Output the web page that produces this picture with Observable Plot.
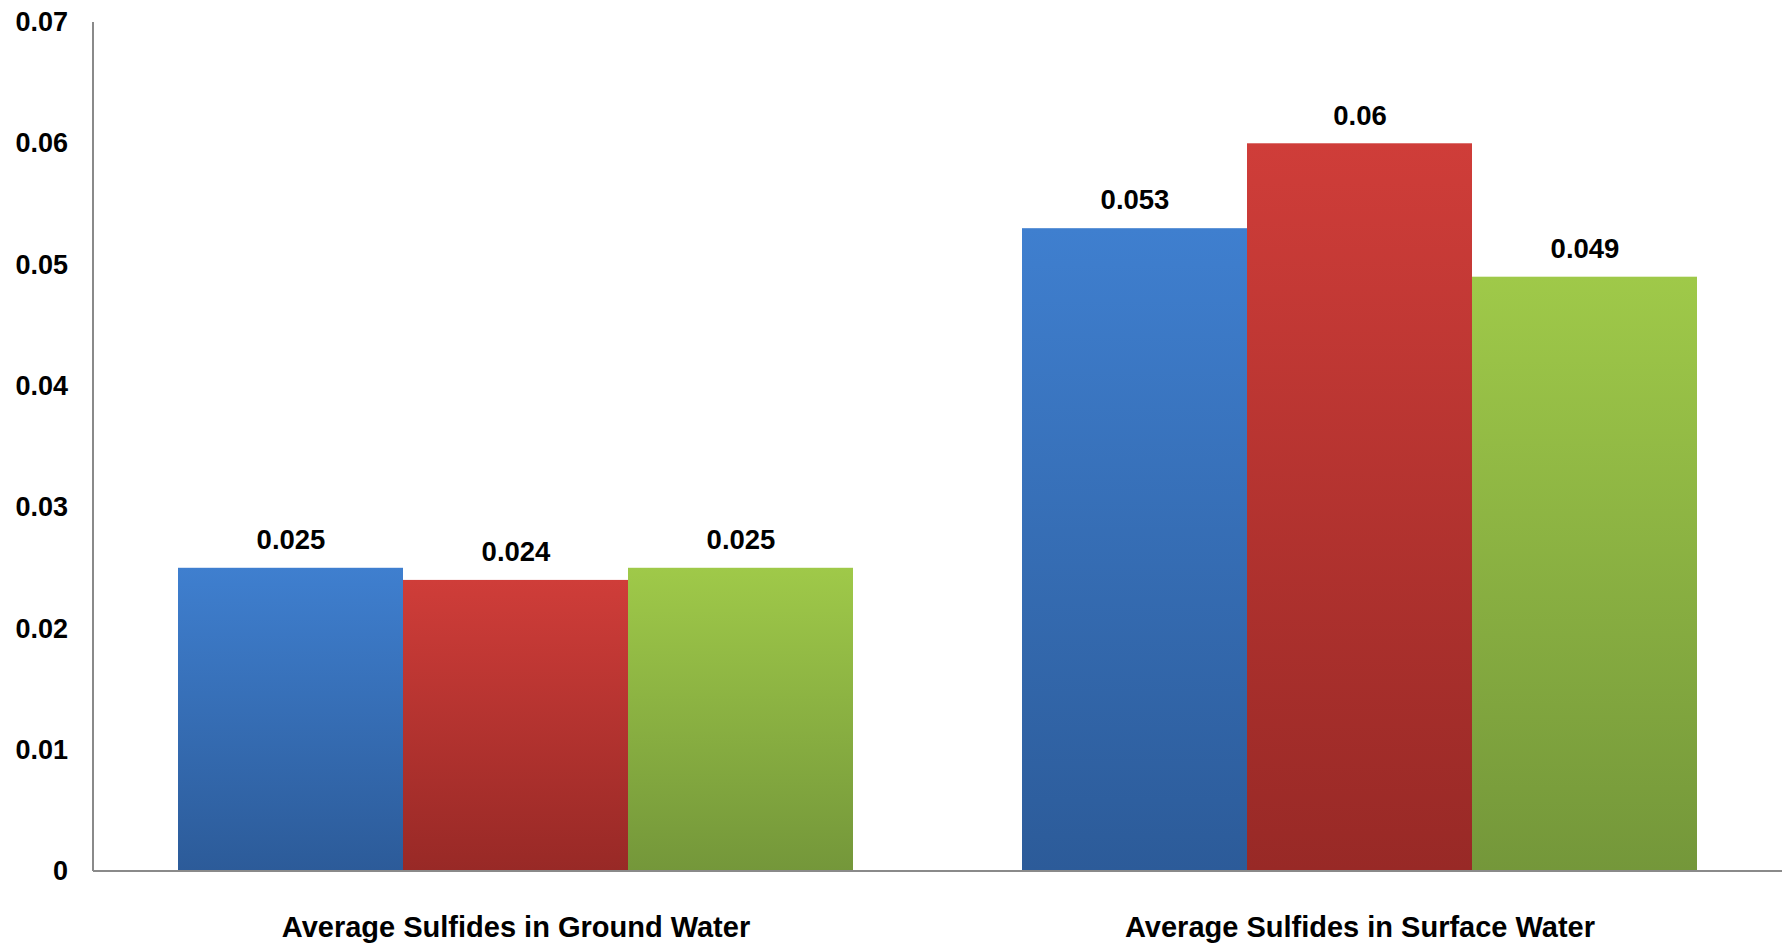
<!DOCTYPE html>
<html><head><meta charset="utf-8">
<script src="https://cdn.jsdelivr.net/npm/d3@7"></script>
<script src="https://cdn.jsdelivr.net/npm/@observablehq/plot@0.6"></script>
<style>html,body{margin:0;padding:0;background:#fff;} svg{display:block}</style>
</head><body><div id="chart"></div>
<script>
const categories = ["Average Sulfides in Ground Water", "Average Sulfides in Surface Water"];
const seriesNames = ["Series 1", "Series 2", "Series 3"];
const groundWater = [0.025, 0.024, 0.025];
const surfaceWater = [0.053, 0.06, 0.049];
const yTicks = [0, 0.01, 0.02, 0.03, 0.04, 0.05, 0.06, 0.07];
const yTickLabels = ["0", "0.01", "0.02", "0.03", "0.04", "0.05", "0.06", "0.07"];
const seriesTop = ["#3F7FCF", "#CF3D39", "#9FC949"];
const seriesBottom = ["#2C5B99", "#982926", "#74973A"];

const data = [];
[groundWater, surfaceWater].forEach((vals, i) =>
  vals.forEach((v, j) => data.push({category: categories[i], series: seriesNames[j], value: v})));

const W = 1788, H = 945, mL = 93, mR = 6, mT = 22, mB = 74;
const padIn = 0.2, padOut = 0.1;
const step = (W - mL - mR) / (categories.length - padIn + 2 * padOut);
const facetOffset = padOut * step;

const plot = Plot.plot({
  width: W, height: H, marginLeft: mL, marginRight: mR, marginTop: mT, marginBottom: mB,
  style: {fontFamily: "'Liberation Sans', Arial, sans-serif", background: "#fff", color: "#000"},
  fx: {domain: categories, paddingInner: padIn, paddingOuter: padOut, label: null, axis: null},
  x: {domain: seriesNames, padding: 0, axis: null},
  y: {domain: [0, 0.07], label: null},
  color: {type: "ordinal", domain: seriesNames, range: seriesNames.map((s, i) => `url(#grad${i})`)},
  marks: [
    Plot.barY(data, {fx: "category", x: "series", y: "value", fill: "series"}),
    Plot.text(data, {fx: "category", x: "series", y: "value", text: d => String(d.value), dy: -28, fontSize: 27.5, fontWeight: "bold", fill: "#000"}),
    Plot.axisY({ticks: yTicks, tickFormat: d => yTickLabels[yTicks.indexOf(d)], tickSize: 0, tickPadding: 26 + facetOffset, fontSize: 27, fontWeight: "bold", label: null}),
    Plot.axisFx({anchor: "bottom", tickSize: 0, tickPadding: 45, fontSize: 29, fontWeight: "bold", label: null, lineAnchor: "top"})
  ]
});

const svg = d3.select(plot);
const defs = svg.insert("defs", ":first-child");
seriesNames.forEach((s, i) => {
  const g = defs.append("linearGradient").attr("id", `grad${i}`)
    .attr("x1", 0).attr("y1", 0).attr("x2", 0).attr("y2", 1);
  g.append("stop").attr("offset", "0%").attr("stop-color", seriesTop[i]);
  g.append("stop").attr("offset", "100%").attr("stop-color", seriesBottom[i]);
});
const yScale = plot.scale("y");
const y0 = yScale.apply(0), yTop = yScale.apply(0.07);
svg.append("line").attr("x1", mL).attr("x2", mL).attr("y1", yTop).attr("y2", y0)
  .attr("stroke", "#8a8a8a").attr("stroke-width", 2);
svg.append("line").attr("x1", mL).attr("x2", W - mR).attr("y1", y0).attr("y2", y0)
  .attr("stroke", "#8a8a8a").attr("stroke-width", 2);

document.getElementById("chart").appendChild(plot);
</script>
</body></html>
